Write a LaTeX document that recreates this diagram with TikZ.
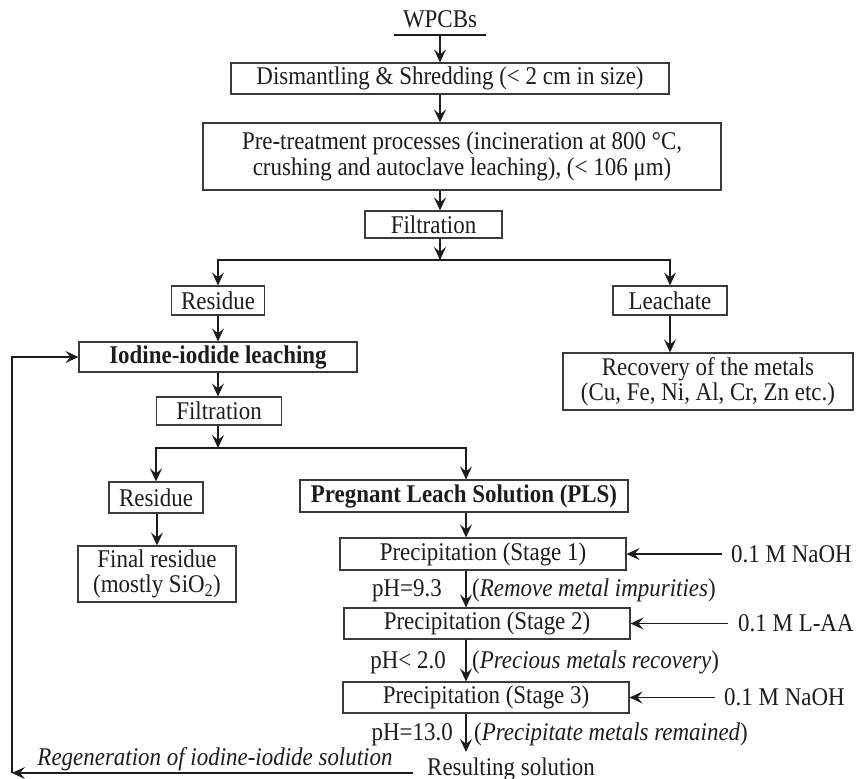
\documentclass[tikz,border=0pt]{standalone}
\usepackage{fontspec}
\setmainfont{Liberation Serif}[FakeStretch=0.9]
\usetikzlibrary{arrows.meta}
\definecolor{ink}{HTML}{1C1C1C}
\definecolor{frame}{HTML}{3A3A3A}
\begin{document}
\begin{tikzpicture}[x=1pt,y=-1pt,
  font=\fontsize{25.5}{25.5}\selectfont,
  box/.style={draw=frame, line width=1.1pt, inner sep=0pt, align=center, text=ink},
  flow/.style={draw=ink, line width=1.4pt, -{Stealth[length=13pt,width=12pt,inset=5pt]}},
  wire/.style={draw=ink, line width=1.4pt},
  lab/.style={inner sep=0pt, text=ink}]
\useasboundingbox (0,0) rectangle (865,779);

% ---- main column: pre-treatment ----
\node[lab] (src) at (440,19) {WPCBs};
\coordinate (srcL) at (394,35);
\coordinate (srcR) at (486,35);
\coordinate (srcM) at (440,35);
\draw[wire] (srcL) -- (srcR);

\node[box, minimum width=438pt, minimum height=31pt] (shred) at (450,78.5)
  {Dismantling \& Shredding (\textless{} 2 cm in size)};
\node[box, minimum width=518pt, minimum height=67pt] (pre) at (462,156.5)
  {Pre-treatment processes (incineration at 800 °C,\\crushing and autoclave leaching), (\textless{} 106 μm)};
\node[box, minimum width=137pt, minimum height=27pt] (filt1) at (433.5,224.5) {Filtration};

\draw[flow] (srcM) -- (srcM |- shred.north);
\draw[flow] (shred.south -| srcM) -- (pre.north -| srcM);
\draw[flow] (pre.south -| srcM) -- (filt1.north -| srcM);
\coordinate (split1) at (440,260);
\draw[flow] (filt1.south -| srcM) -- (split1);

% ---- first split ----
\node[box, minimum width=93pt, minimum height=29pt] (res1) at (218,300.5) {Residue};
\node[box, minimum width=114pt, minimum height=29pt] (leach) at (670,300.5) {Leachate};
\node[box, minimum width=290pt, minimum height=57pt] (recov) at (708,381.5)
  {Recovery of the metals\\(Cu, Fe, Ni, Al, Cr, Zn etc.)};
\draw[flow] (split1) -| (res1.north);
\draw[flow] (split1) -| (leach.north);
\draw[flow] (leach) -- (leach.south |- recov.north);

% ---- iodine-iodide leaching ----
\node[box, minimum width=278pt, minimum height=30pt, font=\fontsize{25.5}{25.5}\selectfont\bfseries] (iod) at (218,357) {Iodine-iodide leaching};
\node[box, minimum width=125pt, minimum height=28pt] (filt2) at (219,411) {Filtration};
\draw[flow] (res1) -- (iod);
\draw[flow] (iod) -- (iod.south |- filt2.north);
\coordinate (split2) at (218,448);
\draw[flow] (filt2.south -| split2) -- (split2);

% ---- second split ----
\node[box, minimum width=94pt, minimum height=31pt] (res2) at (156,497.5) {Residue};
\node[box, minimum width=158pt, minimum height=56pt] (fin) at (157,574)
  {Final residue\\(mostly SiO\textsubscript{2})};
\node[box, minimum width=328pt, minimum height=32pt, font=\fontsize{25.5}{25.5}\selectfont\bfseries] (pls) at (464,496) {Pregnant Leach Solution (PLS)};
\coordinate (plsTop) at (466,448);
\draw[flow] (split2) -| (res2.north);
\draw[flow] (split2) -- (plsTop) -- (plsTop |- pls.north);
\draw[flow] (res2.south -| fin.north) -- (fin.north);

% ---- precipitation stages ----
\node[box, minimum width=286pt, minimum height=32pt] (st1) at (483,554) {Precipitation (Stage 1)};
\node[box, minimum width=286pt, minimum height=31pt] (st2) at (487,623.5) {Precipitation (Stage 2)};
\node[box, minimum width=286pt, minimum height=31pt] (st3) at (486,697.5) {Precipitation (Stage 3)};
\node[lab, anchor=base west] (result) at (427,775) {Resulting solution};
\coordinate (resTop) at (466,752);

\draw[flow] (pls.south -| plsTop) -- (st1.north -| plsTop);
\draw[flow] (st1.south -| plsTop) -- (st2.north -| plsTop);
\draw[flow] (st2.south -| plsTop) -- (st3.north -| plsTop);
\draw[flow] (st3.south -| plsTop) -- (resTop);

\node[lab, anchor=base east] (ph1) at (442,596) {pH=9.3};
\node[lab, anchor=base west] (c1) at (472,596) {(\textit{Remove metal impurities})};
\node[lab, anchor=base east] (ph2) at (446,668) {pH\textless{} 2.0};
\node[lab, anchor=base west] (c2) at (472,668) {(\textit{Precious metals recovery})};
\node[lab, anchor=base east] (ph3) at (453,740) {pH=13.0};
\node[lab, anchor=base west] (c3) at (474,740) {(\textit{Precipitate metals remained})};

% ---- reagents ----
\node[lab, anchor=west] (na1) at (731,554) {0.1 M NaOH};
\node[lab, anchor=west] (laa) at (738,623.5) {0.1 M L-AA};
\node[lab, anchor=west] (na3) at (724,697.5) {0.1 M NaOH};
\draw[flow, shorten <=9pt] (na1.west) -- (st1.east);
\draw[flow, shorten <=10pt] (laa.west) -- (st2.east);
\draw[flow, shorten <=9pt] (na3.west) -- (st3.east);

% ---- recycle loop ----
\coordinate (regEnd) at (413,773);
\coordinate (loopB) at (12,773);
\node[lab, anchor=base, font=\fontsize{25.5}{25.5}\selectfont\itshape] (regen) at (215,765)
  {Regeneration of iodine-iodide solution};
\draw[flow] (regEnd) -- (loopB);
\draw[flow] (loopB) |- (iod.west);
\end{tikzpicture}
\end{document}
